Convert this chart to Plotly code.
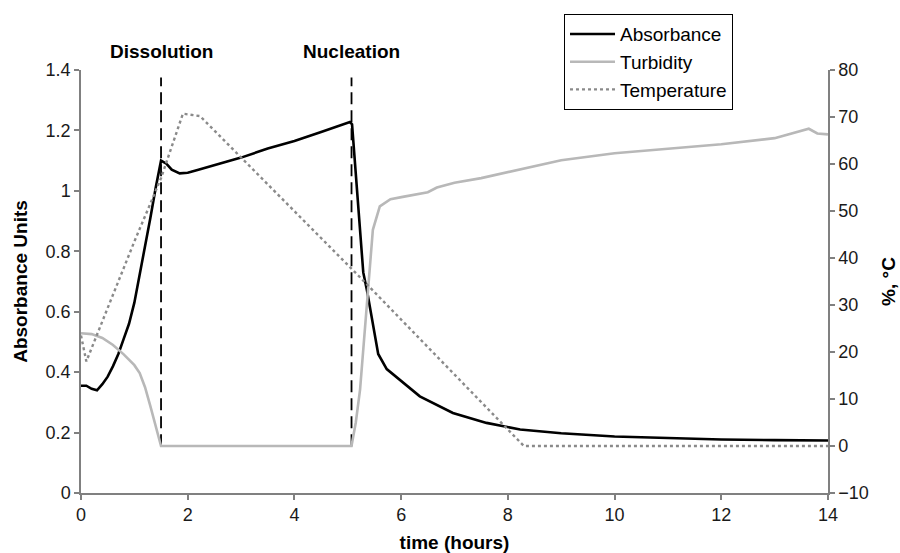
import plotly.graph_objects as go

# Absorbance (left axis)
abs_t = [0, 0.1, 0.2, 0.3, 0.4, 0.5, 0.6, 0.7, 0.8, 0.9, 1.0, 1.1, 1.2, 1.3, 1.4, 1.5,
         1.6, 1.7, 1.85, 2.0, 2.2, 2.5, 3.0, 3.5, 4.0, 4.5, 5.04, 5.08, 5.17, 5.29, 5.36,
         5.47, 5.57, 5.73, 6.0, 6.35, 6.97, 7.6, 8.23, 9.0, 10.0, 11.0, 12.0, 13.0, 14.0]
abs_v = [0.355, 0.355, 0.345, 0.34, 0.36, 0.385, 0.42, 0.46, 0.51, 0.56, 0.63, 0.72, 0.81, 0.91, 1.01, 1.1,
         1.09, 1.07, 1.058, 1.06, 1.07, 1.085, 1.11, 1.14, 1.165, 1.195, 1.228, 1.22, 1.0, 0.73, 0.67,
         0.56, 0.46, 0.41, 0.37, 0.32, 0.265, 0.232, 0.21, 0.198, 0.187, 0.181, 0.177, 0.175, 0.174]

# Turbidity (right axis, %)
tur_t = [0, 0.2, 0.4, 0.6, 0.8, 1.0, 1.1, 1.2, 1.3, 1.4, 1.5, 5.07, 5.15, 5.23, 5.3, 5.36, 5.47,
         5.6, 5.8, 6.03, 6.5, 6.67, 7.0, 7.5, 8.23, 9.0, 10.0, 11.0, 12.0, 13.0, 13.64, 13.8, 14.0]
tur_v = [24, 23.8, 23, 21.5, 19.5, 17.2, 15.5, 12.5, 8.5, 4.2, 0, 0, 5, 12, 22, 32, 46,
         51, 52.5, 53, 54, 55, 56, 57, 58.8, 60.8, 62.3, 63.2, 64.2, 65.5, 67.5, 66.5, 66.3]

# Temperature (right axis, °C)
tem_t = [0, 0.1, 0.54, 1.0, 1.5, 1.91, 2.23, 5.29, 8.3, 14.0]
tem_v = [23.5, 18, 30.5, 43.5, 57, 70.7, 70.2, 35.2, 0, 0]

# Event markers
event_t = [1.5, 5.07]
event_names = ["Dissolution", "Nucleation"]
event_y = [0.155, 1.375]

FONT = "Liberation Sans, Arial, sans-serif"

fig = go.Figure()
fig.add_trace(go.Scatter(x=abs_t, y=abs_v, name="Absorbance", mode="lines",
                         line=dict(color="black", width=2.6), yaxis="y"))
fig.add_trace(go.Scatter(x=tur_t, y=tur_v, name="Turbidity", mode="lines",
                         line=dict(color="#b8b8b8", width=2.6), yaxis="y2"))
fig.add_trace(go.Scatter(x=tem_t, y=tem_v, name="Temperature", mode="lines",
                         line=dict(color="#8a8a8a", width=2.4, dash="dot"), yaxis="y2"))
for t in event_t:
    fig.add_trace(go.Scatter(x=[t, t], y=event_y, mode="lines", showlegend=False,
                             line=dict(color="black", width=1.8, dash="12px,6px"),
                             yaxis="y", hoverinfo="skip"))

for t, name in zip(event_t, event_names):
    fig.add_annotation(x=t, y=1.043, xref="x", yref="paper", text="<b>%s</b>" % name,
                       showarrow=False, font=dict(size=19, color="black", family=FONT),
                       xanchor="center", yanchor="middle")

axis_common = dict(showgrid=False, zeroline=False, showline=True, linecolor="#808080",
                   linewidth=1.5, ticks="outside", ticklen=5, tickcolor="#808080",
                   tickwidth=1.5, tickfont=dict(size=18, color="#1a1a1a", family=FONT),
                   automargin=False)

fig.update_layout(
    width=900, height=553,
    margin=dict(l=81, r=72, t=70, b=60),
    paper_bgcolor="white", plot_bgcolor="white",
    font=dict(family=FONT, color="black"),
    xaxis=dict(range=[0, 14], tickvals=[0, 2, 4, 6, 8, 10, 12, 14],
               title=dict(text="<b>time (hours)</b>", font=dict(size=19), standoff=11),
               **axis_common),
    yaxis=dict(range=[0, 1.4], tickvals=[0, 0.2, 0.4, 0.6, 0.8, 1, 1.2, 1.4],
               ticktext=["0", "0.2", "0.4", "0.6", "0.8", "1", "1.2", "1.4"],
               title=dict(text="<b>Absorbance Units</b>", font=dict(size=19), standoff=13),
               **axis_common),
    yaxis2=dict(range=[-10, 80], tickvals=list(range(-10, 81, 10)), overlaying="y",
                side="right", anchor="x",
                title=dict(text="<b>%, °C</b>", font=dict(size=19), standoff=14),
                **axis_common),
    legend=dict(x=0.6466, y=1.132, xanchor="left", yanchor="top",
                bordercolor="black", borderwidth=1, bgcolor="white",
                font=dict(size=19, color="black", family=FONT),
                tracegroupgap=0, itemwidth=45),
    showlegend=True,
)

fig.write_html("out.html")
